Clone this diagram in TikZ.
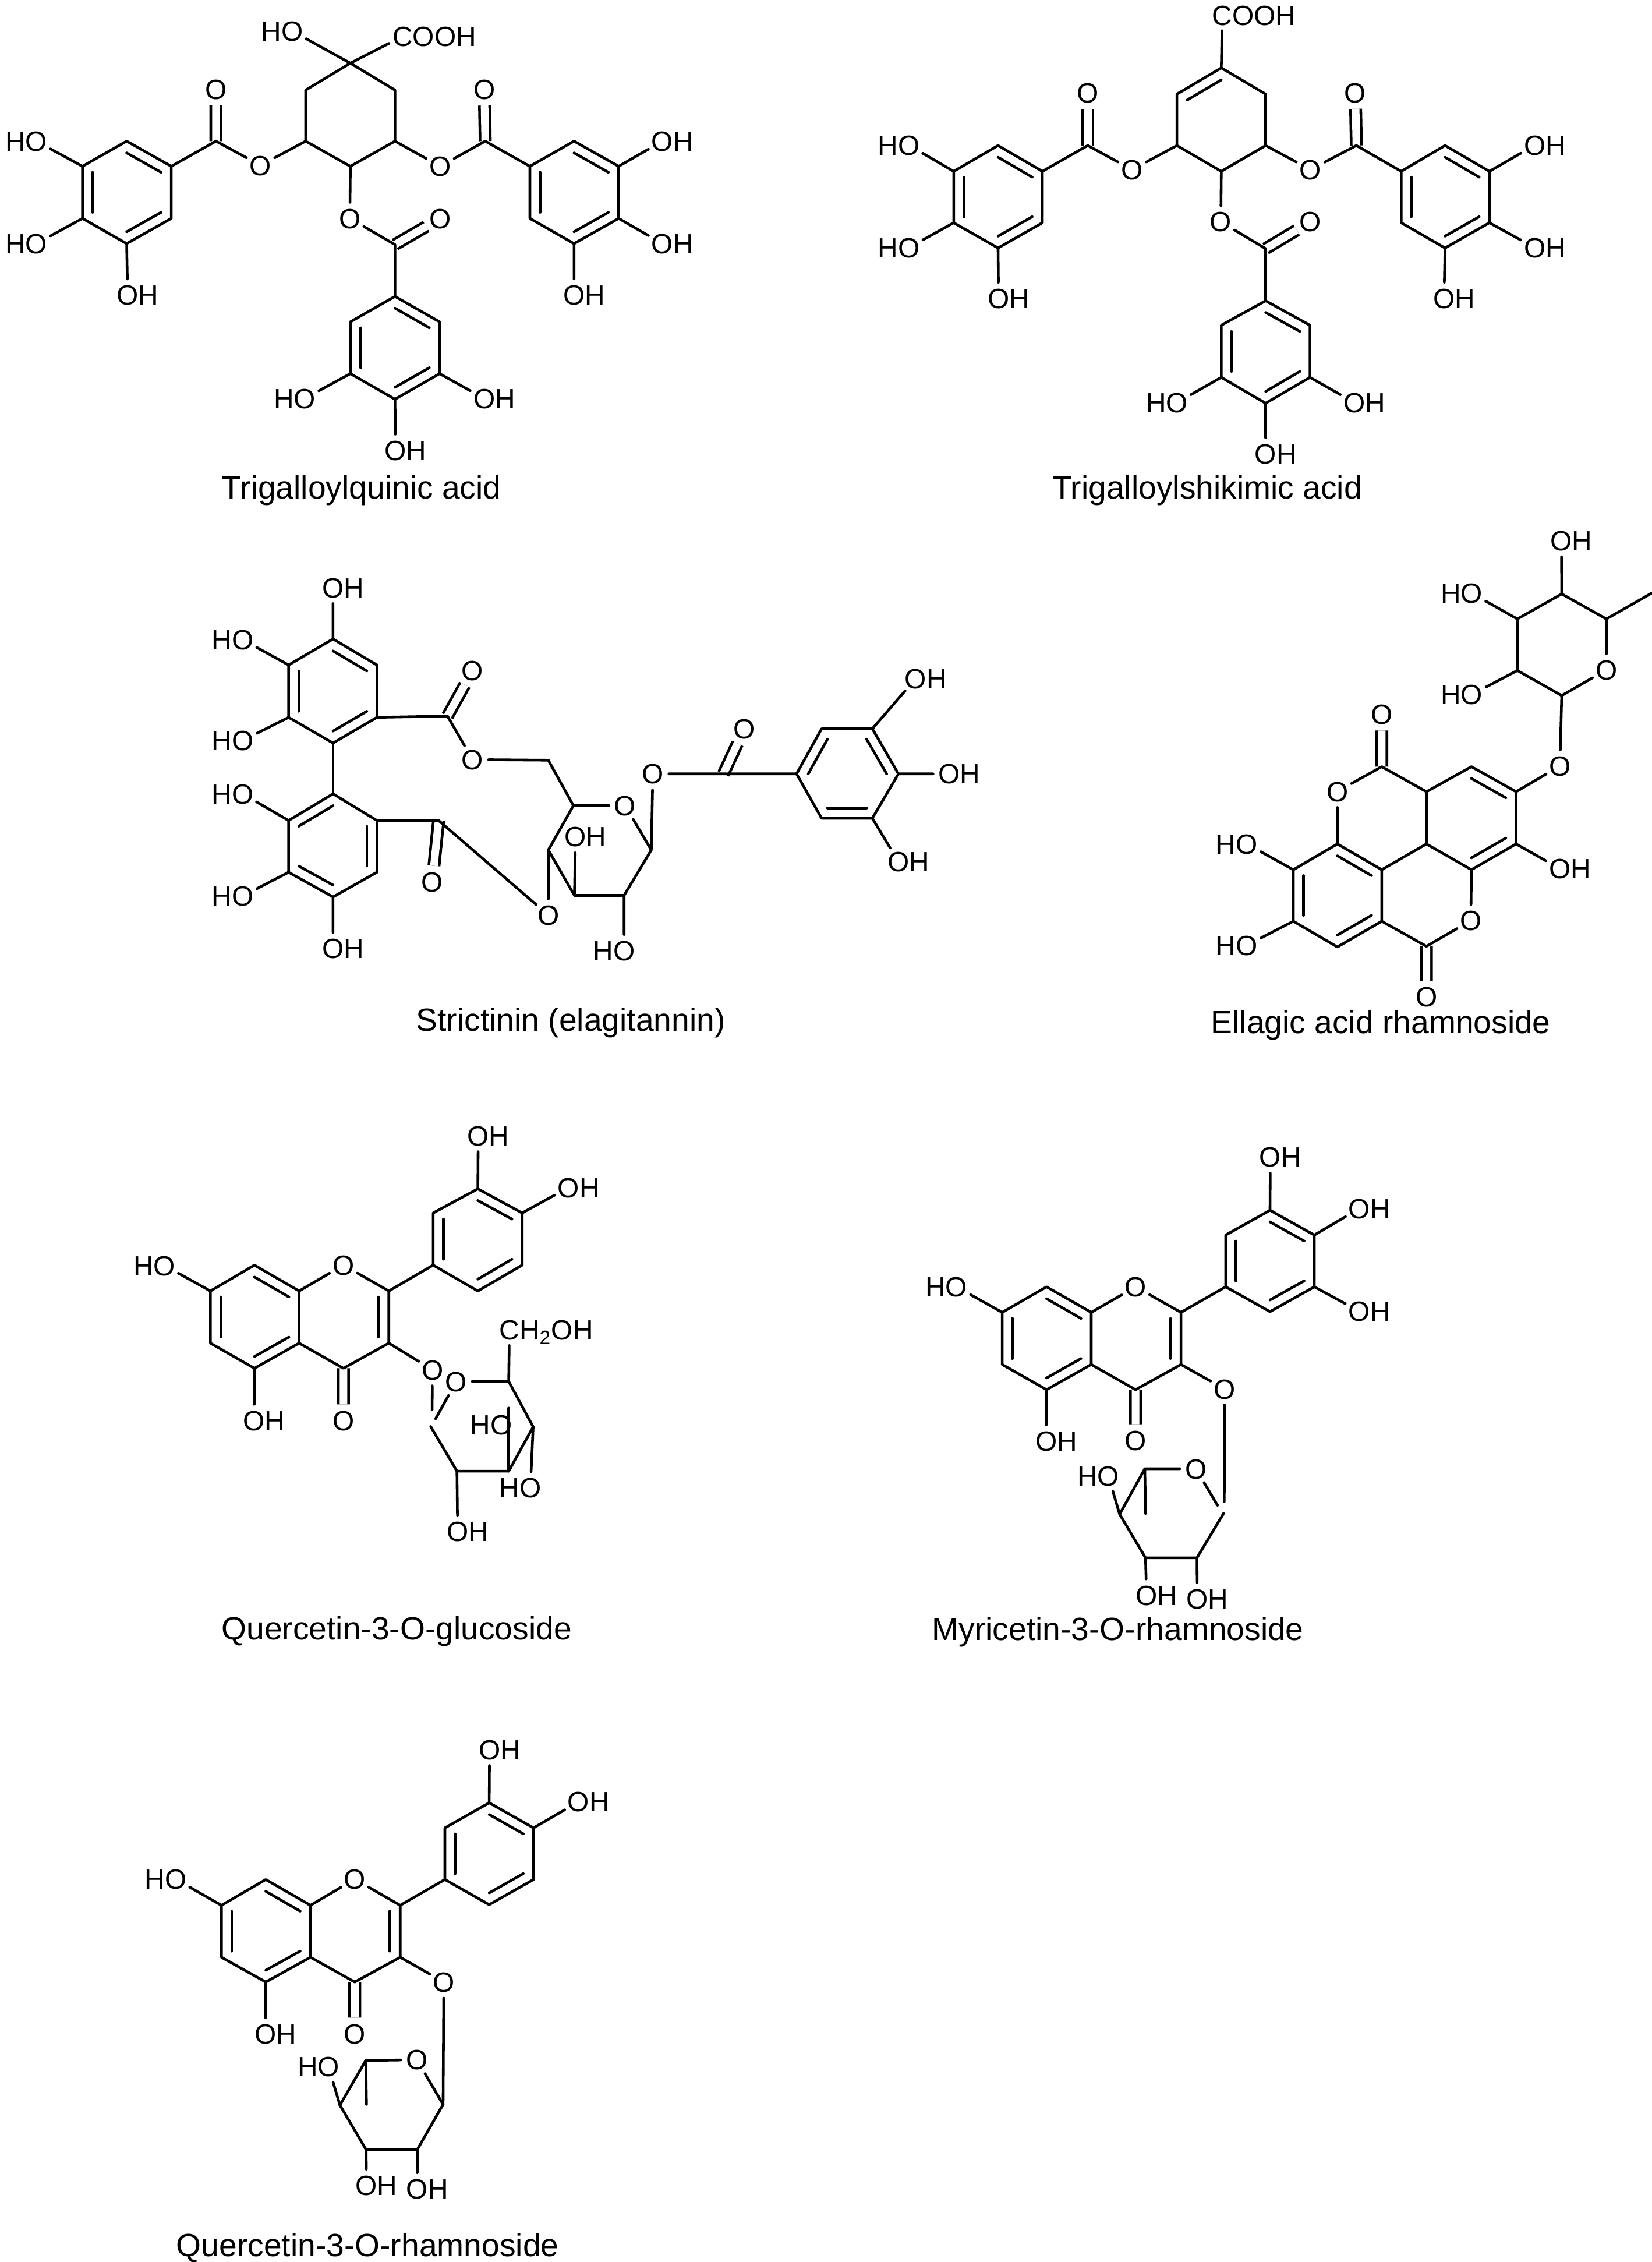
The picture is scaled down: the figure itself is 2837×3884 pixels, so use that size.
\documentclass[tikz,border=0pt]{standalone}
\usepackage{fontspec}
\setmainfont{Liberation Sans}
\usepackage{pgf, tikz}
\usetikzlibrary{calc}
\newcommand{\atomfont}{\fontsize{13.6}{16}\selectfont}
\newcommand{\sixring}[1]{\draw (#11)--(#12)--(#13)--(#14)--(#15)--(#16)--cycle;}
\newcommand{\inbond}[3]{\draw ($(#1)!.23!(#3)$) -- ($(#2)!.23!(#3)$);}
\tikzset{
  atom/.style={circle,inner sep=0pt,font=\atomfont,text height=9.8pt,text depth=0pt},
  tail/.style={atom,execute at end node={\rlap{#1}}},
  head/.style={atom,execute at begin node={\llap{#1}}},
  molname/.style={font=\fontsize{15.7}{18}\selectfont,inner sep=0pt},
  dbond/.style={double,double distance=.13cm,line cap=butt},
}
\begin{document}
\begin{tikzpicture}[x=.01cm,y=-.01cm,line width=1.3pt,line cap=round,line join=round]
\useasboundingbox (0,0) rectangle (2837,3884);

% Trigalloylquinic acid
\begin{scope}[shift={(0,0)},xscale=.8333,yscale=.5769]
  \coordinate (q1) at (722,188); \coordinate (q2) at (630,268); \coordinate (q3) at (630,420);
  \coordinate (q4) at (722,495); \coordinate (q5) at (814,420); \coordinate (q6) at (814,268);
  \coordinate (qx) at (445,420); \coordinate (qy) at (1000,420); \coordinate (qz) at (814,728);
  \coordinate (qa1) at (353,495); \coordinate (qa2) at (261,420); \coordinate (qa3) at (170,495);
  \coordinate (qa4) at (170,650); \coordinate (qa5) at (261,725); \coordinate (qa6) at (353,650);
  \coordinate (qac) at (261,572);
  \coordinate (qb1) at (1092,495); \coordinate (qb2) at (1183,420); \coordinate (qb3) at (1275,495);
  \coordinate (qb4) at (1275,650); \coordinate (qb5) at (1183,725); \coordinate (qb6) at (1092,650);
  \coordinate (qbc) at (1183,572);
  \coordinate (qc1) at (814,882); \coordinate (qc2) at (906,958); \coordinate (qc3) at (906,1112);
  \coordinate (qc4) at (814,1188); \coordinate (qc5) at (722,1112); \coordinate (qc6) at (722,958);
  \coordinate (qcc) at (814,1035);
  \node[head=H](qtop) at (602,92) {O};
  \node[tail=OOH](qcooh) at (830,108) {C};
  \node[atom](qo1) at (537,492) {O};
  \node[atom](qo2) at (907,495) {O};
  \node[atom](qo3) at (721,650) {O};
  \node[atom](qk1) at (445,266) {O};
  \node[atom](qk2) at (998,266) {O};
  \node[atom](qk3) at (907,650) {O};
  \node[head=H](qh1) at (75,420) {O};
  \node[head=H](qh2) at (75,725) {O};
  \node[tail=H](qh3) at (263,878) {O};
  \node[tail=H](qh4) at (1365,420) {O};
  \node[tail=H](qh5) at (1365,725) {O};
  \node[tail=H](qh6) at (1183,878) {O};
  \node[head=H](qh7) at (628,1186) {O};
  \node[tail=H](qh8) at (998,1186) {O};
  \node[tail=H](qh9) at (815,1340) {O};
  \draw[dbond] (qx) -- (qk1);
  \draw[dbond] (qy) -- (qk2);
  \draw[dbond] (qz) -- (qk3);
  \sixring{q} \sixring{qa} \sixring{qb} \sixring{qc}
  \inbond{qa2}{qa1}{qac} \inbond{qa3}{qa4}{qac} \inbond{qa5}{qa6}{qac}
  \inbond{qb2}{qb3}{qbc} \inbond{qb4}{qb5}{qbc} \inbond{qb6}{qb1}{qbc}
  \inbond{qc1}{qc2}{qcc} \inbond{qc3}{qc4}{qcc} \inbond{qc5}{qc6}{qcc}
  \draw (q1) -- (qtop);
  \draw (q1) -- (qcooh);
  \draw (q3) -- (qo1) -- (qx) -- (qa1);
  \draw (q5) -- (qo2) -- (qy) -- (qb1);
  \draw (q4) -- (qo3) -- (qz) -- (qc1);
  \draw (qa3) -- (qh1);
  \draw (qa4) -- (qh2);
  \draw (qa5) -- (qh3);
  \draw (qb3) -- (qh4);
  \draw (qb4) -- (qh5);
  \draw (qb5) -- (qh6);
  \draw (qc5) -- (qh7);
  \draw (qc3) -- (qh8);
  \draw (qc4) -- (qh9);
  \node[molname](qname) at (745,1460) {Trigalloylquinic acid};
\end{scope}

% Trigalloylshikimic acid
\begin{scope}[shift={(1450,0)},xscale=.8654,yscale=.5769]
  \coordinate (s1) at (748,202); \coordinate (s2) at (660,280); \coordinate (s3) at (660,433);
  \coordinate (s4) at (748,510); \coordinate (s5) at (836,433); \coordinate (s6) at (836,280);
  \coordinate (sm) at (748,357);
  \coordinate (sx) at (483,433); \coordinate (sy) at (1016,433); \coordinate (sz) at (836,740);
  \coordinate (sa1) at (393,510); \coordinate (sa2) at (305,433); \coordinate (sa3) at (217,510);
  \coordinate (sa4) at (217,663); \coordinate (sa5) at (305,738); \coordinate (sa6) at (393,663);
  \coordinate (sac) at (305,585);
  \coordinate (sb1) at (1105,510); \coordinate (sb2) at (1192,433); \coordinate (sb3) at (1280,510);
  \coordinate (sb4) at (1280,663); \coordinate (sb5) at (1192,738); \coordinate (sb6) at (1105,663);
  \coordinate (sbc) at (1192,585);
  \coordinate (sc1) at (836,895); \coordinate (sc2) at (924,968); \coordinate (sc3) at (924,1123);
  \coordinate (sc4) at (836,1200); \coordinate (sc5) at (748,1123); \coordinate (sc6) at (748,968);
  \coordinate (scc) at (836,1047);
  \node[tail=OOH](scooh) at (750,45) {C};
  \node[atom](so1) at (571,505) {O};
  \node[atom](so2) at (925,505) {O};
  \node[atom](so3) at (747,660) {O};
  \node[atom](sk1) at (483,276) {O};
  \node[atom](sk2) at (1014,276) {O};
  \node[atom](sk3) at (925,660) {O};
  \node[head=H](sh1) at (128,432) {O};
  \node[head=H](sh2) at (128,737) {O};
  \node[tail=H](sh3) at (306,888) {O};
  \node[tail=H](sh4) at (1370,432) {O};
  \node[tail=H](sh5) at (1370,737) {O};
  \node[tail=H](sh6) at (1190,888) {O};
  \node[head=H](sh7) at (660,1198) {O};
  \node[tail=H](sh8) at (1012,1198) {O};
  \node[tail=H](sh9) at (836,1350) {O};
  \draw[dbond] (sx) -- (sk1);
  \draw[dbond] (sy) -- (sk2);
  \draw[dbond] (sz) -- (sk3);
  \sixring{s} \sixring{sa} \sixring{sb} \sixring{sc}
  \inbond{s1}{s2}{sm}
  \inbond{sa2}{sa1}{sac} \inbond{sa3}{sa4}{sac} \inbond{sa5}{sa6}{sac}
  \inbond{sb2}{sb3}{sbc} \inbond{sb4}{sb5}{sbc} \inbond{sb6}{sb1}{sbc}
  \inbond{sc1}{sc2}{scc} \inbond{sc3}{sc4}{scc} \inbond{sc5}{sc6}{scc}
  \draw (s1) -- (scooh);
  \draw (s3) -- (so1) -- (sx) -- (sa1);
  \draw (s5) -- (so2) -- (sy) -- (sb1);
  \draw (s4) -- (so3) -- (sz) -- (sc1);
  \draw (sa3) -- (sh1);
  \draw (sa4) -- (sh2);
  \draw (sa5) -- (sh3);
  \draw (sb3) -- (sh4);
  \draw (sb4) -- (sh5);
  \draw (sb5) -- (sh6);
  \draw (sc5) -- (sh7);
  \draw (sc3) -- (sh8);
  \draw (sc4) -- (sh9);
  \node[molname](sname) at (720,1460) {Trigalloylshikimic acid};
\end{scope}

% Strictinin
\begin{scope}[shift={(300,950)},xscale=.8974,yscale=.5449]
  \coordinate (ta1) at (303,270); \coordinate (ta2) at (387,352); \coordinate (ta3) at (387,517);
  \coordinate (ta4) at (303,598); \coordinate (ta5) at (218,517); \coordinate (ta6) at (218,352);
  \coordinate (tac) at (303,434);
  \coordinate (tb1) at (303,758); \coordinate (tb2) at (387,842); \coordinate (tb3) at (387,1005);
  \coordinate (tb4) at (303,1083); \coordinate (tb5) at (218,1005); \coordinate (tb6) at (218,842);
  \coordinate (tbc) at (303,920);
  \coordinate (tc1) at (1190,695); \coordinate (tc2) at (1238,553); \coordinate (tc3) at (1335,553);
  \coordinate (tc4) at (1385,695); \coordinate (tc5) at (1335,835); \coordinate (tc6) at (1238,835);
  \coordinate (tcc) at (1287,695);
  \coordinate (tx) at (522,513); \coordinate (ty) at (505,842); \coordinate (tz) at (1050,695);
  \coordinate (tm) at (715,652); \coordinate (tg1) at (763,795); \coordinate (tg2) at (715,935);
  \coordinate (tg3) at (765,1078); \coordinate (tg4) at (860,1078); \coordinate (tg5) at (912,935);
  \node[tail=H](th1) at (303,108) {O};
  \node[head=H](th2) at (130,272) {O};
  \node[head=H](th3) at (130,590) {O};
  \node[head=H](th4) at (130,758) {O};
  \node[head=H](th5) at (130,1080) {O};
  \node[tail=H](th6) at (303,1245) {O};
  \node[tail=H](th7) at (767,893) {O};
  \node[head=H](th8) at (860,1252) {O};
  \node[tail=H](th9) at (1418,395) {O};
  \node[tail=H](th10) at (1482,695) {O};
  \node[tail=H](th11) at (1385,972) {O};
  \node[atom](tk1) at (570,370) {O};
  \node[atom](tk2) at (493,1035) {O};
  \node[atom](tk3) at (1090,553) {O};
  \node[atom](to1) at (570,650) {O};
  \node[atom](to2) at (862,795) {O};
  \node[atom](to3) at (715,1140) {O};
  \node[atom](to4) at (915,695) {O};
  \draw[dbond] (tx) -- (tk1);
  \draw[dbond] (ty) -- (tk2);
  \draw[dbond] (tz) -- (tk3);
  \sixring{ta} \sixring{tb} \sixring{tc}
  \inbond{ta1}{ta2}{tac} \inbond{ta3}{ta4}{tac} \inbond{ta5}{ta6}{tac}
  \inbond{tb1}{tb6}{tbc} \inbond{tb2}{tb3}{tbc} \inbond{tb4}{tb5}{tbc}
  \inbond{tc1}{tc2}{tcc} \inbond{tc3}{tc4}{tcc} \inbond{tc5}{tc6}{tcc}
  \draw (ta4) -- (tb1);
  \draw (ta3) -- (tx) -- (to1) -- (tm) -- (tg1) -- (to2) -- (tg5) -- (tg4) -- (tg3) -- (tg2) -- (tg1);
  \draw (tg2) -- (to3) -- (ty) -- (tb2);
  \draw (tg3) -- (th7);
  \draw (tg4) -- (th8);
  \draw (tg5) -- (to4) -- (tz) -- (tc1);
  \draw (ta1) -- (th1);
  \draw (ta6) -- (th2);
  \draw (ta5) -- (th3);
  \draw (tb6) -- (th4);
  \draw (tb5) -- (th5);
  \draw (tb4) -- (th6);
  \draw (tc3) -- (th9);
  \draw (tc4) -- (th10);
  \draw (tc5) -- (th11);
  \node[molname](tname) at (758,1480) {Strictinin (elagitannin)};
\end{scope}

% Ellagic acid rhamnoside
\begin{scope}[shift={(2000,880)},xscale=.5365,yscale=.5897]
  \coordinate (e1) at (1271,237); \coordinate (e2) at (1129,310); \coordinate (e3) at (1129,460);
  \coordinate (e4) at (1271,533); \coordinate (e5) at (1414,310); \coordinate (eme) at (1558,235);
  \coordinate (ea1) at (838,813); \coordinate (ea2) at (982,740); \coordinate (ea3) at (1125,813);
  \coordinate (ea4) at (1125,965); \coordinate (ea5) at (982,1040); \coordinate (ea6) at (838,965);
  \coordinate (eac) at (982,890);
  \coordinate (eb1) at (553,965); \coordinate (eb2) at (695,1040); \coordinate (eb3) at (695,1190);
  \coordinate (eb4) at (553,1265); \coordinate (eb5) at (412,1190); \coordinate (eb6) at (412,1040);
  \coordinate (ebc) at (553,1115);
  \coordinate (ex) at (695,740); \coordinate (ey) at (838,1263);
  \node[atom](eo1) at (1414,458) {O};
  \node[atom](eo2) at (1265,738) {O};
  \node[atom](eo3) at (553,812) {O};
  \node[atom](eo4) at (980,1188) {O};
  \node[atom](ek1) at (695,588) {O};
  \node[atom](ek2) at (838,1410) {O};
  \node[tail=H](eh1) at (1270,82) {O};
  \node[head=H](eh2) at (983,235) {O};
  \node[head=H](eh3) at (983,530) {O};
  \node[tail=H](eh4) at (1265,1037) {O};
  \node[head=H](eh5) at (263,965) {O};
  \node[head=H](eh6) at (263,1260) {O};
  \draw[dbond] (ex) -- (ek1);
  \draw[dbond] (ey) -- (ek2);
  \sixring{ea} \sixring{eb}
  \inbond{ea2}{ea3}{eac} \inbond{ea4}{ea5}{eac}
  \inbond{eb1}{eb2}{ebc} \inbond{eb3}{eb4}{ebc} \inbond{eb5}{eb6}{ebc}
  \draw (e1) -- (e2) -- (e3) -- (e4) -- (eo1) -- (e5) -- (e1);
  \draw (e5) -- (eme);
  \draw (e4) -- (eo2) -- (ea3);
  \draw (eb2) -- (ea6);
  \draw (eb1) -- (eo3) -- (ex) -- (ea1);
  \draw (ea5) -- (eo4) -- (ey) -- (eb3);
  \draw (e1) -- (eh1);
  \draw (e2) -- (eh2);
  \draw (e3) -- (eh3);
  \draw (ea4) -- (eh4);
  \draw (eb6) -- (eh5);
  \draw (eb5) -- (eh6);
  \node[molname](ename) at (692,1493) {Ellagic acid rhamnoside};
\end{scope}

% Quercetin-3-O-glucoside
\begin{scope}[shift={(200,1900)},xscale=.609,yscale=.609]
  \coordinate (ga1) at (389,447); \coordinate (ga2) at (515,520); \coordinate (ga3) at (515,667);
  \coordinate (ga4) at (389,738); \coordinate (ga5) at (265,667); \coordinate (ga6) at (265,520);
  \coordinate (gac) at (390,593);
  \coordinate (gp1) at (768,520); \coordinate (gp2) at (768,667); \coordinate (gp3) at (640,738);
  \coordinate (gpc) at (640,593);
  \coordinate (gb1) at (893,447); \coordinate (gb2) at (893,300); \coordinate (gb3) at (1019,232);
  \coordinate (gb4) at (1144,300); \coordinate (gb5) at (1144,447); \coordinate (gb6) at (1019,520);
  \coordinate (gbc) at (1019,375);
  \coordinate (gs1) at (886,902); \coordinate (gs2) at (960,1028); \coordinate (gs3) at (1106,1028);
  \coordinate (gs4) at (1175,903); \coordinate (gs5) at (1106,775);
  \coordinate (ge1) at (890,855); \coordinate (ge2) at (900,880); \coordinate (ge3) at (1106,850);
  \node[atom](go1) at (640,447) {O};
  \node[atom](gk1) at (640,885) {O};
  \node[atom](go2) at (891,742) {O};
  \node[atom](go3) at (958,775) {O};
  \node[head=H](gh1) at (135,448) {O};
  \node[tail=H](gh2) at (388,885) {O};
  \node[tail=H](gh3) at (1020,82) {O};
  \node[tail=H](gh4) at (1275,228) {O};
  \node[tail={H\textsubscript{2}OH}](gch) at (1108,630) {C};
  \node[head=H](gh5) at (1085,897) {O};
  \node[head=H](gh6) at (1167,1075) {O};
  \node[tail=H](gh7) at (962,1198) {O};
  \draw[dbond] (gp3) -- (gk1);
  \sixring{ga} \sixring{gb}
  \inbond{ga1}{ga2}{gac} \inbond{ga3}{ga4}{gac} \inbond{ga5}{ga6}{gac}
  \inbond{gp1}{gp2}{gpc}
  \inbond{gb1}{gb2}{gbc} \inbond{gb3}{gb4}{gbc} \inbond{gb5}{gb6}{gbc}
  \draw (ga2) -- (go1) -- (gp1) -- (gp2) -- (gp3) -- (ga3);
  \draw (gp1) -- (gb1);
  \draw (gp2) -- (go2) -- (ge1);
  \draw (go3) -- (ge2);
  \draw (gs1) -- (gs2) -- (gs3) -- (gs4) -- (gs5) -- (go3);
  \draw (gs5) -- (gch);
  \draw (gs3) -- (ge3);
  \draw (gs4) -- (gh6);
  \draw (gs2) -- (gh7);
  \draw (ga6) -- (gh1);
  \draw (ga4) -- (gh2);
  \draw (gb3) -- (gh3);
  \draw (gb4) -- (gh4);
  \node[molname](gname) at (790,1480) {Quercetin-3-O-glucoside};
\end{scope}

% Myricetin-3-O-rhamnoside
\begin{scope}[shift={(1550,1930)},xscale=.609,yscale=.609]
  \coordinate (ma1) at (406,459); \coordinate (ma2) at (532,531); \coordinate (ma3) at (532,678);
  \coordinate (ma4) at (406,749); \coordinate (ma5) at (281,678); \coordinate (ma6) at (281,531);
  \coordinate (mac) at (406,605);
  \coordinate (mp1) at (785,531); \coordinate (mp2) at (785,678); \coordinate (mp3) at (657,749);
  \coordinate (mpc) at (657,605);
  \coordinate (mb1) at (911,459); \coordinate (mb2) at (911,313); \coordinate (mb3) at (1036,243);
  \coordinate (mb4) at (1161,313); \coordinate (mb5) at (1161,459); \coordinate (mb6) at (1036,529);
  \coordinate (mbc) at (1036,386);
  \coordinate (ms1) at (905,1098); \coordinate (ms2) at (830,1223); \coordinate (ms3) at (685,1223);
  \coordinate (ms4) at (612,1100); \coordinate (ms5) at (683,972);
  \coordinate (me1) at (907,1065); \coordinate (me2) at (888,1075); \coordinate (me3) at (685,1098);
  \node[atom](mo1) at (657,459) {O};
  \node[atom](mk1) at (657,892) {O};
  \node[atom](mo2) at (908,747) {O};
  \node[atom](mo3) at (827,972) {O};
  \node[head=H](mh1) at (152,459) {O};
  \node[tail=H](mh2) at (405,893) {O};
  \node[tail=H](mh3) at (1037,93) {O};
  \node[tail=H](mh4) at (1288,238) {O};
  \node[tail=H](mh5) at (1288,528) {O};
  \node[head=H](mh6) at (580,992) {O};
  \node[tail=H](mh7) at (688,1328) {O};
  \node[tail=H](mh8) at (831,1338) {O};
  \draw[dbond] (mp3) -- (mk1);
  \sixring{ma} \sixring{mb}
  \inbond{ma1}{ma2}{mac} \inbond{ma3}{ma4}{mac} \inbond{ma5}{ma6}{mac}
  \inbond{mp1}{mp2}{mpc}
  \inbond{mb1}{mb2}{mbc} \inbond{mb3}{mb4}{mbc} \inbond{mb5}{mb6}{mbc}
  \draw (ma2) -- (mo1) -- (mp1) -- (mp2) -- (mp3) -- (ma3);
  \draw (mp1) -- (mb1);
  \draw (mp2) -- (mo2) -- (me1);
  \draw (mo3) -- (me2);
  \draw (ms1) -- (ms2) -- (ms3) -- (ms4) -- (ms5) -- (mo3);
  \draw (ms5) -- (me3);
  \draw (ms4) -- (mh6);
  \draw (ms3) -- (mh7);
  \draw (ms2) -- (mh8);
  \draw (ma6) -- (mh1);
  \draw (ma4) -- (mh2);
  \draw (mb3) -- (mh3);
  \draw (mb4) -- (mh4);
  \draw (mb5) -- (mh5);
  \node[molname](mname) at (607,1432) {Myricetin-3-O-rhamnoside};
\end{scope}

% Quercetin-3-O-rhamnoside
\begin{scope}[shift={(200,2950)},xscale=.609,yscale=.5987]
  \coordinate (ra1) at (421,463); \coordinate (ra2) at (547,537); \coordinate (ra3) at (547,686);
  \coordinate (ra4) at (421,757); \coordinate (ra5) at (296,686); \coordinate (ra6) at (296,537);
  \coordinate (rac) at (421,610);
  \coordinate (rp1) at (800,537); \coordinate (rp2) at (800,686); \coordinate (rp3) at (672,757);
  \coordinate (rpc) at (672,610);
  \coordinate (rb1) at (926,463); \coordinate (rb2) at (926,315); \coordinate (rb3) at (1051,243);
  \coordinate (rb4) at (1176,315); \coordinate (rb5) at (1176,463); \coordinate (rb6) at (1051,535);
  \coordinate (rbc) at (1051,389);
  \coordinate (rs1) at (921,1108); \coordinate (rs2) at (848,1238); \coordinate (rs3) at (704,1238);
  \coordinate (rs4) at (630,1110); \coordinate (rs5) at (703,982); \coordinate (re1) at (705,1108);
  \node[atom](ro1) at (672,462) {O};
  \node[atom](rk1) at (672,905) {O};
  \node[atom](ro2) at (923,757) {O};
  \node[atom](ro3) at (847,980) {O};
  \node[head=H](rh1) at (167,462) {O};
  \node[tail=H](rh2) at (420,905) {O};
  \node[tail=H](rh3) at (1052,90) {O};
  \node[tail=H](rh4) at (1303,240) {O};
  \node[head=H](rh5) at (598,1000) {O};
  \node[tail=H](rh6) at (705,1340) {O};
  \node[tail=H](rh7) at (848,1350) {O};
  \draw[dbond] (rp3) -- (rk1);
  \sixring{ra} \sixring{rb}
  \inbond{ra1}{ra2}{rac} \inbond{ra3}{ra4}{rac} \inbond{ra5}{ra6}{rac}
  \inbond{rp1}{rp2}{rpc}
  \inbond{rb1}{rb2}{rbc} \inbond{rb3}{rb4}{rbc} \inbond{rb5}{rb6}{rbc}
  \draw (ra2) -- (ro1) -- (rp1) -- (rp2) -- (rp3) -- (ra3);
  \draw (rp1) -- (rb1);
  \draw (rp2) -- (ro2) -- (rs1);
  \draw (rs1) -- (rs2) -- (rs3) -- (rs4) -- (rs5) -- (ro3) -- (rs1);
  \draw (rs5) -- (re1);
  \draw (rs4) -- (rh5);
  \draw (rs3) -- (rh6);
  \draw (rs2) -- (rh7);
  \draw (ra6) -- (rh1);
  \draw (ra4) -- (rh2);
  \draw (rb3) -- (rh3);
  \draw (rb4) -- (rh4);
  \node[molname](rname) at (708,1520) {Quercetin-3-O-rhamnoside};
\end{scope}
\end{tikzpicture}
\end{document}
